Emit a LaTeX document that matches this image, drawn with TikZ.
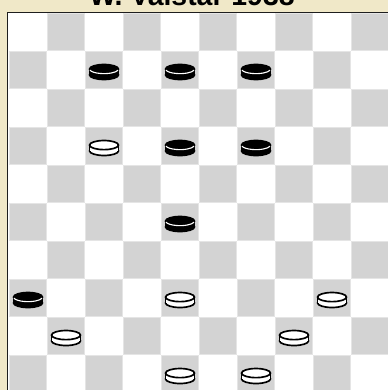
\documentclass[tikz,border=0pt]{standalone}
\usepackage{fontspec}
\setmainfont{Liberation Sans}
\definecolor{paper}{RGB}{240,232,200}
\definecolor{darksq}{RGB}{211,211,211}
\definecolor{sqedge}{RGB}{229,229,229}
\definecolor{rimcol}{RGB}{30,30,30}
\tikzset{
  titletext/.style={font=\fontsize{20.2}{24}\selectfont\bfseries,inner sep=0pt},
  boardrim/.style={draw=rimcol,line width=0.4mm},
  darksquare/.style={fill=darksq,draw=sqedge,line width=0.25mm},
  manline/.style={draw=black,line width=0.42mm},
  crownline/.style={draw=white,line width=0.28mm},
}

\begin{document}
\begin{tikzpicture}[x=0.25mm,y=0.25mm]
  \useasboundingbox (0,0) rectangle (388,390);
  \fill[paper] (0,0) rectangle (388,390);

  \node[titletext,anchor=base] (title) at (192,384) {W. Valstar 1938};

  % board
  \fill[white] (8,-5) rectangle (395,377.5);
  \begin{scope}[shift={(2.25mm,-0.75mm)},x=9.5mm,y=9.5mm]
    \foreach \c in {0,...,9}
      \foreach \r in {0,...,9}{
        \pgfmathparse{int(mod(\c+\r,2))}
        \ifnum\pgfmathresult=0
          \path[darksquare] (\c+0.02,\r+0.02) rectangle (\c+0.98,\r+0.98);
        \fi
      }

    % white men
    \foreach \c/\r in {2/6,4/2,8/2,1/1,7/1,4/0,6/0}{
      \begin{scope}[shift={(\c+0.5,\r+0.5)}]
        \filldraw[manline,fill=white] (0,-0.13) ellipse [x radius=0.38,y radius=0.12];
        \fill[white] (-0.38,-0.13) rectangle (0.38,0.024);
        \draw[manline] (-0.38,-0.13) -- (-0.38,0.024) (0.38,-0.13) -- (0.38,0.024);
        \filldraw[manline,fill=white] (0,0.024) ellipse [x radius=0.38,y radius=0.12];
      \end{scope}
    }

    % black men
    \foreach \c/\r in {2/8,4/8,6/8,4/6,6/6,4/4,0/2}{
      \begin{scope}[shift={(\c+0.5,\r+0.5)}]
        \filldraw[manline,fill=black] (0,-0.13) ellipse [x radius=0.38,y radius=0.12];
        \fill[black] (-0.38,-0.13) rectangle (0.38,0.024);
        \draw[manline] (-0.38,-0.13) -- (-0.38,0.024) (0.38,-0.13) -- (0.38,0.024);
        \filldraw[manline,fill=black] (0,0.024) ellipse [x radius=0.38,y radius=0.12];
        \draw[crownline] (0,0.024) ++(-14:0.38 and 0.12)
          arc [start angle=-14,end angle=-166,x radius=0.38,y radius=0.12];
      \end{scope}
    }
  \end{scope}

  \draw[boardrim] (7.5,-5) |- (395,377.5);
\end{tikzpicture}
\end{document}
